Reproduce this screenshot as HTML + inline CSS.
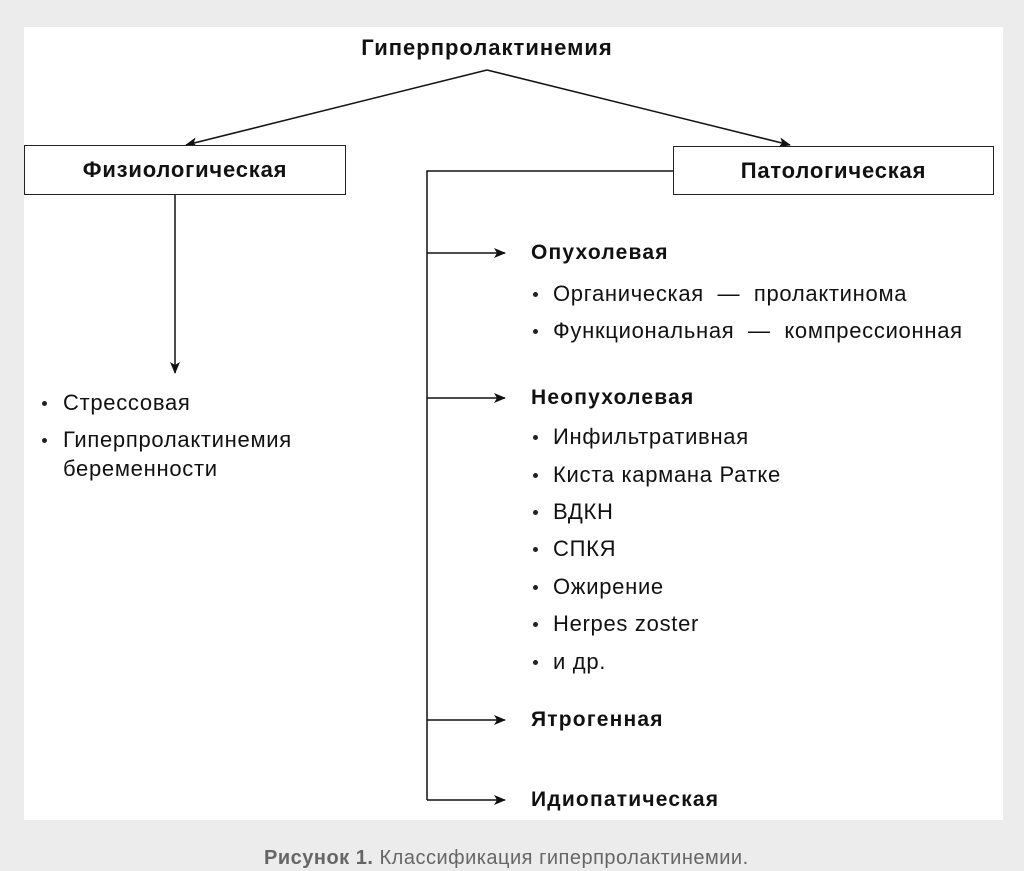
<!DOCTYPE html>
<html><head><meta charset="utf-8"><style>
body{margin:0;width:1024px;height:871px;background:#ececec;position:relative;overflow:hidden;font-family:"Liberation Sans","DejaVu Sans",sans-serif;color:#111}
.panel{position:absolute;left:24px;top:27px;width:979px;height:793px;background:#fff}
.t{position:absolute;white-space:nowrap;font-size:22px;line-height:22px;letter-spacing:0.7px}
.b{font-weight:bold;font-size:21px;letter-spacing:1.2px}
.box{position:absolute;border:1.5px solid #222;background:#fff;box-sizing:border-box;display:flex;align-items:center;justify-content:center;font-weight:bold;font-size:22px;letter-spacing:0.8px}
.dot{position:absolute;width:5px;height:5px;border-radius:50%;background:#222}
</style></head><body>
<div class="panel"></div>
<svg width="1024" height="871" style="position:absolute;left:0;top:0">
<defs><marker id="a" markerWidth="12" markerHeight="10" refX="11" refY="5" orient="auto" markerUnits="userSpaceOnUse"><path d="M0,0 L12,5 L0,10 L3,5 z" fill="#111"/></marker></defs>
<g stroke="#111" stroke-width="1.5" fill="none">
<line x1="487" y1="70" x2="186" y2="145" marker-end="url(#a)"/>
<line x1="487" y1="70" x2="790" y2="145" marker-end="url(#a)"/>
<line x1="175" y1="194" x2="175" y2="373" marker-end="url(#a)"/>
<polyline points="673,171 427,171 427,800"/>
<line x1="427" y1="253" x2="505" y2="253" marker-end="url(#a)"/>
<line x1="427" y1="398" x2="505" y2="398" marker-end="url(#a)"/>
<line x1="427" y1="720" x2="505" y2="720" marker-end="url(#a)"/>
<line x1="427" y1="800" x2="505" y2="800" marker-end="url(#a)"/>
</g></svg>
<div class="t b" style="left:487px;top:37px;transform:translateX(-50%);font-size:22px;letter-spacing:1px">Гиперпролактинемия</div>
<div class="box" style="left:24px;top:145px;width:322px;height:50px">Физиологическая</div>
<div class="box" style="left:673px;top:146px;width:321px;height:49px">Патологическая</div>
<div class="dot" style="left:42px;top:401px"></div><div class="t" style="left:63px;top:392px">Стрессовая</div>
<div class="dot" style="left:42px;top:438px"></div><div class="t" style="left:63px;top:429px">Гиперпролактинемия</div>
<div class="t" style="left:63px;top:458px">беременности</div>
<div class="t b" style="left:531px;top:242px">Опухолевая</div>
<div class="t b" style="left:531px;top:387px">Неопухолевая</div>
<div class="t b" style="left:531px;top:709px">Ятрогенная</div>
<div class="t b" style="left:531px;top:789px">Идиопатическая</div>
<div class="dot" style="left:533px;top:292px"></div><div class="t" style="left:553px;top:283px">Органическая &nbsp;—&nbsp; пролактинома</div>
<div class="dot" style="left:533px;top:329px"></div><div class="t" style="left:553px;top:320px">Функциональная &nbsp;—&nbsp; компрессионная</div>
<div class="dot" style="left:533px;top:435px"></div><div class="t" style="left:553px;top:426px">Инфильтративная</div>
<div class="dot" style="left:533px;top:473px"></div><div class="t" style="left:553px;top:464px">Киста кармана Ратке</div>
<div class="dot" style="left:533px;top:510px"></div><div class="t" style="left:553px;top:501px">ВДКН</div>
<div class="dot" style="left:533px;top:547px"></div><div class="t" style="left:553px;top:538px">СПКЯ</div>
<div class="dot" style="left:533px;top:585px"></div><div class="t" style="left:553px;top:576px">Ожирение</div>
<div class="dot" style="left:533px;top:622px"></div><div class="t" style="left:553px;top:613px">Herpes zoster</div>
<div class="dot" style="left:533px;top:660px"></div><div class="t" style="left:553px;top:651px">и др.</div>
<div class="t" style="left:264px;top:847px;font-size:20px;color:#666;letter-spacing:0.5px"><b>Рисунок 1.</b> Классификация гиперпролактинемии.</div>
</body></html>
